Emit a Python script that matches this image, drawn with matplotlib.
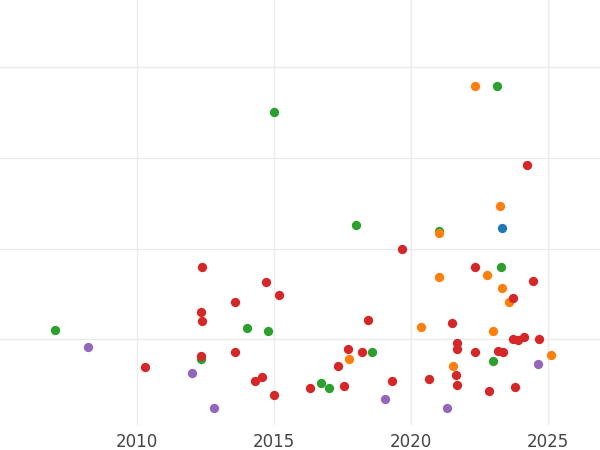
import matplotlib
matplotlib.use("Agg")
import matplotlib.pyplot as plt

green_x = [2007.0,2015.0,2023.14,2018.0,2021.02,2023.28,2014.01,2014.78,2018.58,2012.34,2016.72,2017.01,2022.99]
green_y = [1.10,3.51,3.80,2.26,2.19,1.80,1.12,1.09,0.86,0.78,0.52,0.46,0.76]
orange_x = [2022.34,2023.25,2021.02,2021.02,2022.77,2023.32,2023.58,2020.36,2022.99,2017.74,2021.53,2025.11]
orange_y = [3.80,2.47,2.17,1.69,1.71,1.57,1.41,1.13,1.09,0.78,0.71,0.83]
blue_x = [2023.32]
blue_y = [2.23]
purple_x = [2008.21,2012.01,2012.81,2019.05,2021.31,2024.64]
purple_y = [0.92,0.63,0.24,0.34,0.24,0.73]
red_x = [2024.23,2019.67,2012.37,2014.71,2015.18,2013.58,2012.34,2012.37,2022.34,2024.45,2023.72,2018.43,2021.50,
         2010.29,2012.34,2013.58,2014.56,2014.31,2015.0,2016.31,2017.34,2017.55,2017.70,2018.21,2019.31,2020.66,
         2021.68,2021.68,2021.64,2021.68,2022.34,2022.85,2023.18,2023.36,2023.72,2023.91,2024.12,2024.67,2023.80]
red_y = [2.92,2.0,1.80,1.63,1.49,1.41,1.30,1.20,1.80,1.64,1.46,1.21,1.18,
         0.69,0.81,0.86,0.58,0.54,0.38,0.46,0.71,0.48,0.89,0.86,0.54,0.56,
         0.96,0.89,0.61,0.50,0.86,0.43,0.87,0.86,1.0,0.99,1.02,1.0,0.47]

fig = plt.figure(figsize=(6, 4.5), dpi=100)
ax = fig.add_axes([0, 0.056, 1, 0.944])
ax.set_xlim(2005.0, 2026.9)
ax.set_ylim(0.056, 4.744)
series = [(green_x, green_y, "#2ca02c"), (orange_x, orange_y, "#ff7f0e"),
          (blue_x, blue_y, "#1f77b4"), (purple_x, purple_y, "#9467bd"),
          (red_x, red_y, "#d62728")]
for xs, ys, c in series:
    ax.scatter(xs, ys, s=45, color=c, zorder=3, linewidths=0)
ax.set_xticks([2010, 2015, 2020, 2025])
ax.set_yticks([1, 2, 3, 4])
ax.set_yticklabels([])
ax.grid(True, color="#ebebeb", linewidth=1)
for s in ax.spines.values():
    s.set_visible(False)
ax.tick_params(axis="both", length=0, labelsize=12, labelcolor="#444444")
ax.tick_params(axis="x", pad=6)
fig.savefig("out.png")
